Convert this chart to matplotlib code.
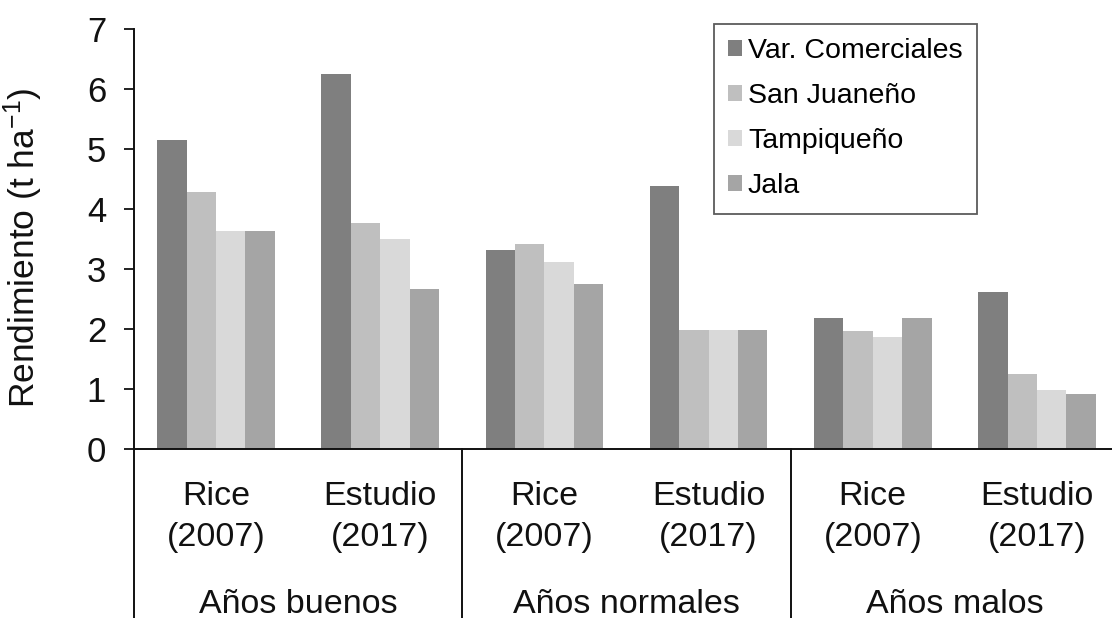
import numpy as np
import matplotlib
matplotlib.use('Agg')
import matplotlib.pyplot as plt

plt.rcParams['font.family'] = ['Liberation Sans', 'DejaVu Sans']
plt.rcParams['mathtext.fontset'] = 'custom'
plt.rcParams['mathtext.rm'] = 'Liberation Sans'
plt.rcParams['mathtext.default'] = 'regular'

# datos
fuente = ['Rice', 'Estudio'] * 3
anio = ['(2007)', '(2017)'] * 3
grupos = ['Años buenos', 'Años normales', 'Años malos']
series = ['Var. Comerciales', 'San Juaneño', 'Tampiqueño', 'Jala']
var_comerciales = [5.15, 6.25, 3.32, 4.39, 2.19, 2.62]
san_juaneno = [4.29, 3.77, 3.42, 1.99, 1.97, 1.25]
tampiqueno = [3.64, 3.50, 3.12, 1.99, 1.87, 0.99]
jala = [3.64, 2.68, 2.76, 1.99, 2.19, 0.93]
colores = ['#7f7f7f', '#bfbfbf', '#d9d9d9', '#a5a5a5']

valores = [var_comerciales, san_juaneno, tampiqueno, jala]

fig = plt.figure(figsize=(11.12, 6.18), dpi=100)
ax = fig.add_axes([134 / 1112, 168.7 / 618, 985 / 1112, 420 / 618])

x = np.arange(len(fuente))
w = 0.179
for i, (nombre, vals) in enumerate(zip(series, valores)):
    ax.bar(x + (i - 1.5) * w, vals, width=w, color=colores[i], label=nombre)

ax.set_xlim(-0.5, len(fuente) - 0.5)
ax.set_ylim(0, 7)
ax.set_yticks(range(0, 8))
ax.tick_params(axis='y', labelsize=25, length=7, width=1.3, pad=13, colors='#111111')
ax.set_xticks([])

for s in ['top', 'right']:
    ax.spines[s].set_visible(False)
for s in ['left', 'bottom']:
    ax.spines[s].set_linewidth(1.4)
    ax.spines[s].set_color('#111111')

trans = ax.get_xaxis_transform()

# etiquetas de categoria en dos lineas
for xi, f, a in zip(x, fuente, anio):
    ax.text(xi, -0.1326, f, transform=trans, ha='center', va='baseline',
            fontsize=24.5, color='#111111')
    ax.text(xi, -0.2302, a, transform=trans, ha='center', va='baseline',
            fontsize=24.5, color='#111111')

# lineas separadoras de los grupos
for xs in [-0.5, 1.5, 3.5, 5.5]:
    ax.plot([xs, xs], [0, -0.42], color='#111111', lw=1.4, transform=trans, clip_on=False)

for k, g in enumerate(grupos):
    ax.text(2 * k + 0.5, -0.3898, g, transform=trans, ha='center', va='baseline',
            fontsize=24.5, color='#111111')

ax.set_ylabel('Rendimiento (t ha$^{-1}$)', fontsize=25.5, color='#111111')
ax.yaxis.set_label_coords(-0.09, 0.48)

leg = ax.legend(loc='upper left', bbox_to_anchor=(714 / 1112, 1 - 24 / 618),
                bbox_transform=fig.transFigure, fontsize=20.5, frameon=True, fancybox=False,
                handlelength=0.47, handleheight=0.47, handletextpad=0.22, labelspacing=0.67,
                borderpad=0.5, borderaxespad=0)
leg.get_frame().set_edgecolor('#333333')
leg.get_frame().set_linewidth(1.3)

fig.savefig('out.png', dpi=100)
